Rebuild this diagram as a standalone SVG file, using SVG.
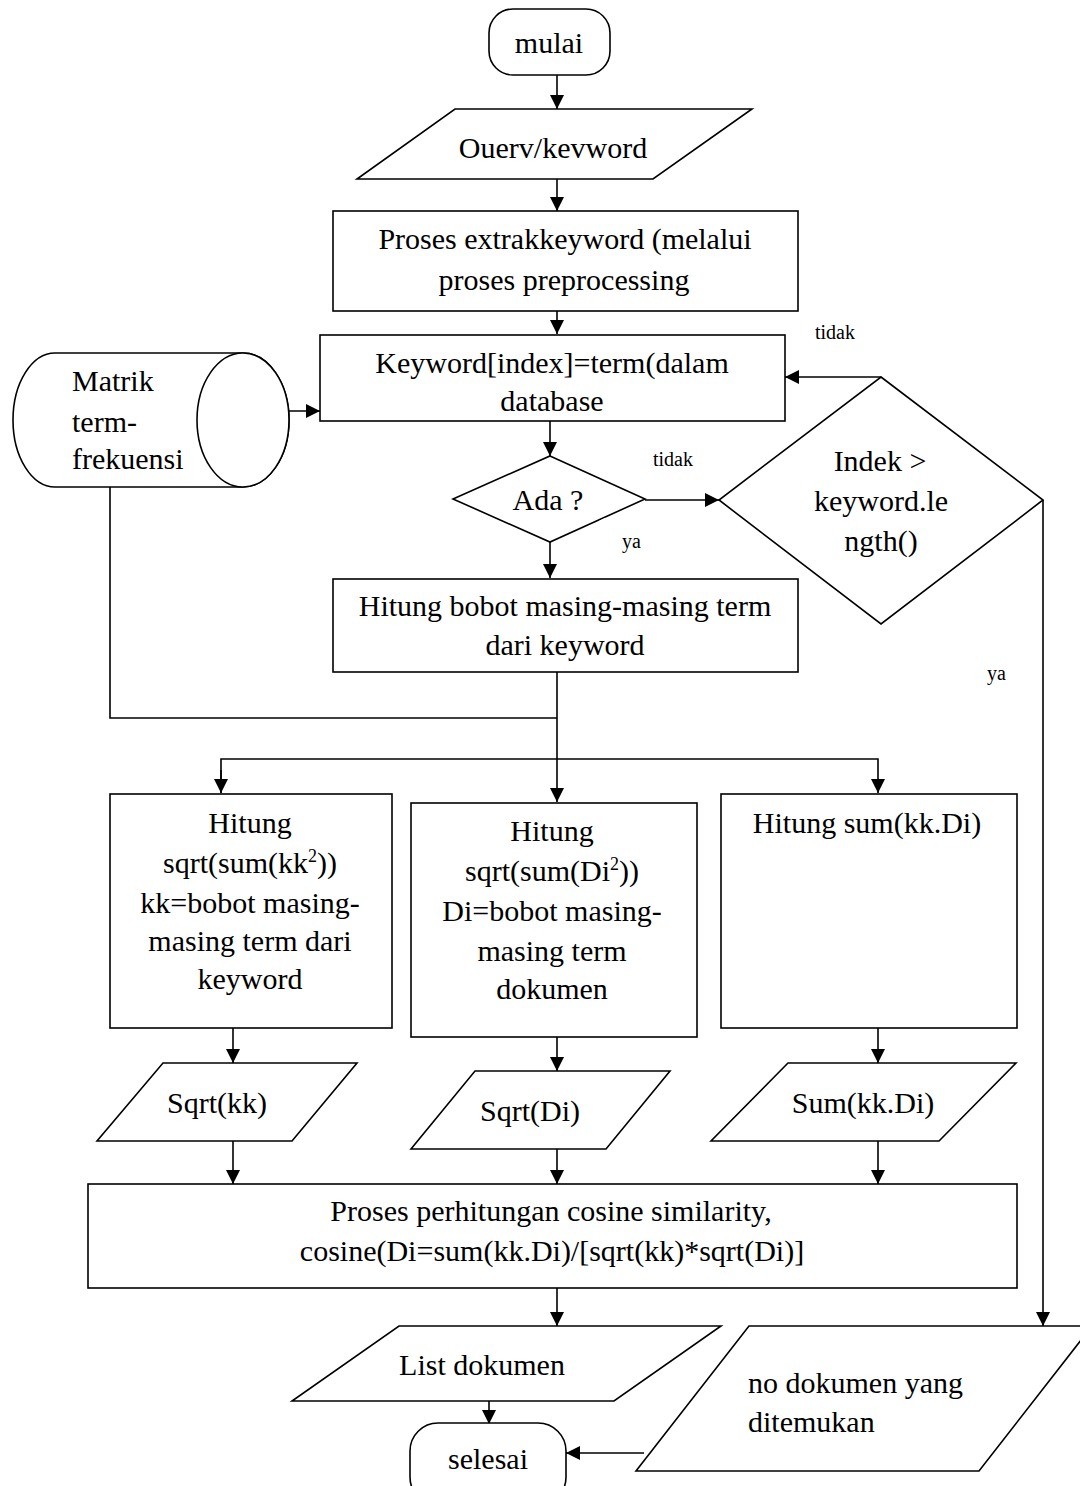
<svg xmlns="http://www.w3.org/2000/svg" width="1080" height="1486" viewBox="0 0 1080 1486">
  <style>
    .s { fill: #fff; stroke: #000; stroke-width: 1.6; }
    .ln { fill: none; stroke: #000; stroke-width: 1.6; }
    text { font-family: "Liberation Serif", "Times New Roman", serif; fill: #000; }
    .t { font-size: 30px; }
    .c { text-anchor: middle; }
    .sm { font-size: 20px; }
    .sup { font-size: 18px; }
  </style>
  <defs>
    <marker id="ah" viewBox="0 0 10 10" refX="10" refY="5" markerWidth="14" markerHeight="14" markerUnits="userSpaceOnUse" orient="auto">
      <path d="M0,0 L10,5 L0,10 Z" fill="#000"/>
    </marker>
  </defs>
  <rect width="1080" height="1486" fill="#fff"/>

  <g id="connectors">
    <line class="ln" x1="557" y1="75" x2="557" y2="109" marker-end="url(#ah)"/>
    <line class="ln" x1="557" y1="179" x2="557" y2="211" marker-end="url(#ah)"/>
    <line class="ln" x1="557" y1="311" x2="557" y2="334" marker-end="url(#ah)"/>
    <line class="ln" x1="247" y1="411" x2="320" y2="411" marker-end="url(#ah)"/>
    <line class="ln" x1="550" y1="421" x2="550" y2="456" marker-end="url(#ah)"/>
    <line class="ln" x1="645" y1="500" x2="719" y2="500" marker-end="url(#ah)"/>
    <polyline class="ln" points="881,377 785,377" marker-end="url(#ah)"/>
    <line class="ln" x1="550" y1="542" x2="550" y2="578" marker-end="url(#ah)"/>
    <polyline class="ln" points="110,487 110,718 557,718"/>
    <line class="ln" x1="557" y1="672" x2="557" y2="802" marker-end="url(#ah)"/>
    <polyline class="ln" points="221,793 221,759 878,759 878,793" marker-end="url(#ah)"/>
    <line class="ln" x1="221" y1="770" x2="221" y2="793" marker-end="url(#ah)"/>
    <line class="ln" x1="233" y1="1028" x2="233" y2="1063" marker-end="url(#ah)"/>
    <line class="ln" x1="557" y1="1037" x2="557" y2="1071" marker-end="url(#ah)"/>
    <line class="ln" x1="878" y1="1028" x2="878" y2="1063" marker-end="url(#ah)"/>
    <line class="ln" x1="233" y1="1141" x2="233" y2="1184" marker-end="url(#ah)"/>
    <line class="ln" x1="557" y1="1149" x2="557" y2="1184" marker-end="url(#ah)"/>
    <line class="ln" x1="878" y1="1141" x2="878" y2="1184" marker-end="url(#ah)"/>
    <line class="ln" x1="557" y1="1288" x2="557" y2="1326" marker-end="url(#ah)"/>
    <line class="ln" x1="489" y1="1401" x2="489" y2="1424" marker-end="url(#ah)"/>
    <polyline class="ln" points="1043,500 1043,1326" marker-end="url(#ah)"/>
    <line class="ln" x1="644" y1="1453" x2="566" y2="1453" marker-end="url(#ah)"/>
    <text class="sm" x="815" y="339">tidak</text>
    <text class="sm" x="653" y="466">tidak</text>
    <text class="sm" x="622" y="548">ya</text>
    <text class="sm" x="987" y="680">ya</text>
  </g>

  <g id="mulai">
    <rect class="s" x="489" y="9" width="121" height="66" rx="24" ry="24"/>
    <text class="t c" x="549" y="53">mulai</text>
  </g>

  <g id="query">
    <polygon class="s" points="455,109 752,109 653,179 357,179"/>
    <text class="t c" x="553" y="158">Ouerv/kevword</text>
  </g>

  <g id="ekstraksi">
    <rect class="s" x="333" y="211" width="465" height="100"/>
    <text class="t c" x="565" y="249">Proses extrakkeyword (melalui</text>
    <text class="t c" x="564" y="290">proses preprocessing</text>
  </g>

  <g id="cek-term">
    <rect class="s" x="320" y="335" width="465" height="86"/>
    <text class="t c" x="552" y="373">Keyword[index]=term(dalam</text>
    <text class="t c" x="552" y="411">database</text>
  </g>

  <g id="matrik">
    <path class="s" d="M55,353 L243,353 A46,67 0 0 1 243,487 L55,487 A42,67 0 0 1 55,353 Z"/>
    <ellipse class="s" cx="243" cy="420" rx="46" ry="67"/>
    <text class="t" x="72" y="391">Matrik</text>
    <text class="t" x="72" y="432">term-</text>
    <text class="t" x="72" y="469">frekuensi</text>
  </g>

  <g id="ada">
    <polygon class="s" points="550,456 645,499 550,542 453,499"/>
    <line x1="600" y1="522" x2="606" y2="519" stroke="#fff" stroke-width="3"/>
    <text class="t c" x="548" y="510">Ada ?</text>
  </g>

  <g id="indek">
    <polygon class="s" points="881,377 1043,500 881,624 719,500"/>
    <text class="t c" x="880" y="471">Indek &gt;</text>
    <text class="t c" x="881" y="511">keyword.le</text>
    <text class="t c" x="881" y="551">ngth()</text>
  </g>

  <g id="bobot">
    <rect class="s" x="333" y="579" width="465" height="93"/>
    <text class="t c" x="565" y="616">Hitung bobot masing-masing term</text>
    <text class="t c" x="565" y="655">dari keyword</text>
  </g>

  <g id="sqrt-kk-hitung">
    <rect class="s" x="110" y="794" width="282" height="234"/>
    <text class="t c" x="250" y="833">Hitung</text>
    <text class="t c" x="250" y="873">sqrt(sum(kk<tspan class="sup" dy="-11">2</tspan><tspan dy="11">))</tspan></text>
    <text class="t c" x="250" y="913">kk=bobot masing-</text>
    <text class="t c" x="250" y="951">masing term dari</text>
    <text class="t c" x="250" y="989">keyword</text>
  </g>

  <g id="sqrt-di-hitung">
    <rect class="s" x="411" y="803" width="286" height="234"/>
    <text class="t c" x="552" y="841">Hitung</text>
    <text class="t c" x="552" y="881">sqrt(sum(Di<tspan class="sup" dy="-11">2</tspan><tspan dy="11">))</tspan></text>
    <text class="t c" x="552" y="921">Di=bobot masing-</text>
    <text class="t c" x="552" y="961">masing term</text>
    <text class="t c" x="552" y="999">dokumen</text>
  </g>

  <g id="sum-hitung">
    <rect class="s" x="721" y="794" width="296" height="234"/>
    <text class="t c" x="867" y="833">Hitung sum(kk.Di)</text>
  </g>

  <g id="sqrt-kk">
    <polygon class="s" points="163,1063 357,1063 292,1141 97,1141"/>
    <text class="t c" x="217" y="1113">Sqrt(kk)</text>
  </g>

  <g id="sqrt-di">
    <polygon class="s" points="475,1071 670,1071 606,1149 411,1149"/>
    <text class="t c" x="530" y="1121">Sqrt(Di)</text>
  </g>

  <g id="sum">
    <polygon class="s" points="788,1063 1016,1063 939,1141 711,1141"/>
    <text class="t c" x="863" y="1113">Sum(kk.Di)</text>
  </g>

  <g id="cosine">
    <rect class="s" x="88" y="1184" width="929" height="104"/>
    <text class="t c" x="551" y="1221">Proses perhitungan cosine similarity,</text>
    <text class="t c" x="552" y="1261">cosine(Di=sum(kk.Di)/[sqrt(kk)*sqrt(Di)]</text>
  </g>

  <g id="list-dokumen">
    <polygon class="s" points="399,1326 721,1326 614,1401 292,1401"/>
    <text class="t c" x="482" y="1375">List dokumen</text>
  </g>

  <g id="no-dokumen">
    <polygon class="s" points="749,1326 1092,1326 979,1471 636,1471"/>
    <text class="t" x="748" y="1393">no dokumen yang</text>
    <text class="t" x="748" y="1432">ditemukan</text>
  </g>

  <g id="selesai">
    <rect class="s" x="410" y="1423" width="156" height="82" rx="28" ry="28"/>
    <text class="t c" x="488" y="1469">selesai</text>
  </g>
</svg>
